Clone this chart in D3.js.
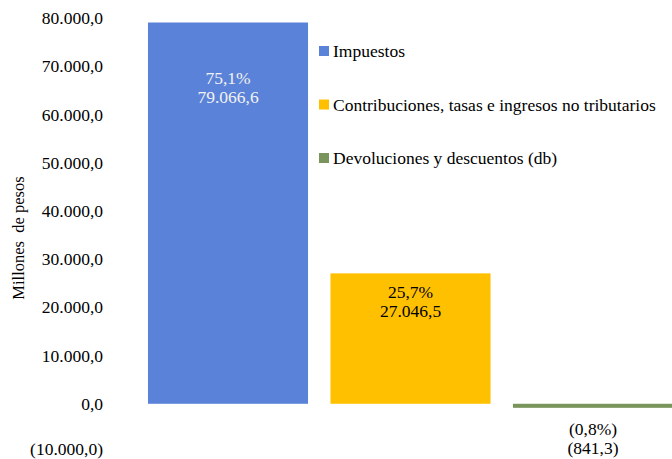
<!DOCTYPE html>
<html>
<head>
<meta charset="utf-8">
<script src="https://cdn.jsdelivr.net/npm/d3@7"></script>
<style>
  body { margin: 0; background: #fff; }
</style>
</head>
<body>
<div id="chart"></div>
<script>
// Data
var categories = ["Impuestos", "Contribuciones, tasas e ingresos no tributarios", "Devoluciones y descuentos (db)"];
var values = [79066.6, 27046.5, -841.3];
var shares = [75.1, 25.7, -0.8];
var colors = ["#5a82d8", "#ffc000", "#7a955c"];
var yTicks = [-10000, 0, 10000, 20000, 30000, 40000, 50000, 60000, 70000, 80000];

var width = 672, height = 459;
var serif = "'Liberation Serif', 'Times New Roman', Times, 'DejaVu Serif', serif";

var svg = d3.select("#chart").append("svg")
    .attr("width", width)
    .attr("height", height)
    .style("font-family", serif);

// Scales
var x = d3.scaleBand()
    .domain(categories)
    .range([136.75, 684.25])
    .paddingInner(0.123)
    .paddingOuter(0.0615);

var y = d3.scaleLinear()
    .domain([-10000, 80000])
    .range([452, 18]);

// Spanish number format: 79.066,6
var loc = d3.formatLocale({decimal: ",", thousands: ".", grouping: [3], currency: ["$", ""]});
var fmt = loc.format(",.1f");
function fmtNeg(v) {
    return v < 0 ? "(" + fmt(-v) + ")" : fmt(v);
}

// Y axis (labels only)
var yAxis = d3.axisLeft(y)
    .tickValues(yTicks)
    .tickSize(0)
    .tickPadding(0)
    .tickFormat(fmtNeg);

var gy = svg.append("g")
    .attr("transform", "translate(103,0)")
    .call(yAxis);
gy.attr("font-family", null).attr("font-size", null);
gy.select(".domain").remove();
gy.selectAll("text")
    .style("font-family", serif)
    .style("font-size", "17.5px")
    .attr("fill", "#000")
    // lowest label sits on the bottom edge; lift it a touch so it is not clipped
    .attr("dy", function(d) { return d < 0 ? "0.15em" : "0.32em"; });

// Axis title
svg.append("text")
    .attr("transform", "translate(24,238)rotate(-90)")
    .attr("text-anchor", "middle")
    .style("font-family", serif)
    .style("font-size", "16.5px")
    .style("white-space", "pre")
    .text("Millones  de pesos");

// Bars
svg.selectAll("rect.bar")
    .data(categories)
    .enter()
    .append("rect")
    .attr("class", "bar")
    .attr("x", function(d) { return x(d); })
    .attr("width", x.bandwidth())
    .attr("y", function(d, i) { return y(Math.max(0, values[i])); })
    .attr("height", function(d, i) { return Math.abs(y(values[i]) - y(0)); })
    .attr("fill", function(d, i) { return colors[i]; });

// Bar labels (share on first line, amount on second)
var labels = svg.selectAll("g.lbl")
    .data(categories)
    .enter()
    .append("g")
    .attr("class", "lbl")
    .attr("transform", function(d, i) {
        var cx = x(d) + x.bandwidth() / 2;
        var cy = values[i] > 0 ? y(values[i] * 0.855) : y(0) + 25;
        return "translate(" + cx + "," + cy + ")";
    });

labels.append("text")
    .attr("text-anchor", "middle")
    .attr("dy", "0.35em")
    .style("font-family", serif)
    .style("font-size", "17.5px")
    .attr("fill", function(d, i) { return i === 0 ? "#f2f2f2" : "#000"; })
    .text(function(d, i) {
        var s = loc.format(".1f")(Math.abs(shares[i])) + "%";
        return shares[i] < 0 ? "(" + s + ")" : s;
    });

labels.append("text")
    .attr("text-anchor", "middle")
    .attr("y", 19)
    .attr("dy", "0.35em")
    .style("font-family", serif)
    .style("font-size", "17.5px")
    .attr("fill", function(d, i) { return i === 0 ? "#f2f2f2" : "#000"; })
    .text(function(d, i) { return fmtNeg(values[i]); });

// Legend
var legend = svg.selectAll("g.leg")
    .data(categories)
    .enter()
    .append("g")
    .attr("class", "leg")
    .attr("transform", function(d, i) { return "translate(319," + (51 + i * 53.5) + ")"; });

legend.append("rect")
    .attr("x", 0)
    .attr("y", -5)
    .attr("width", 10)
    .attr("height", 10)
    .attr("fill", function(d, i) { return colors[i]; });

legend.append("text")
    .attr("x", 14)
    .attr("dy", "0.35em")
    .style("font-family", serif)
    .style("font-size", "17.5px")
    .text(function(d) { return d; });
</script>
</body>
</html>
